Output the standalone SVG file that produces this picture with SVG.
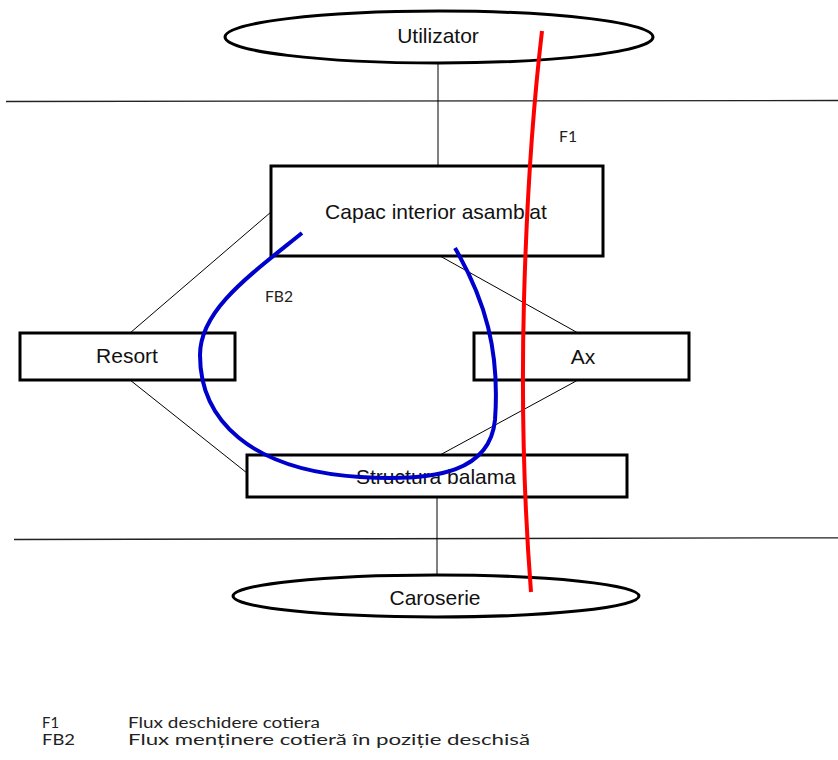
<svg xmlns="http://www.w3.org/2000/svg" width="838" height="760" viewBox="0 0 838 760">
  <style>
    .box { fill: #ffffff; stroke: #000000; stroke-width: 3; }
    .lbl { font-family: "Liberation Sans", Arial, sans-serif; font-size: 21px; fill: #111111; text-anchor: middle; }
    .note { font-family: Lato, "Noto Sans", sans-serif; font-size: 15.5px; fill: #222222; }
    .link { stroke: #000000; stroke-width: 1; fill: none; }
    .border { stroke: #222222; stroke-width: 1.3; fill: none; }
    .flow-f1 { stroke: #ff0000; stroke-width: 4; fill: none; stroke-linecap: butt; }
    .flow-fb2 { stroke: #0000cc; stroke-width: 4; fill: none; stroke-linecap: butt; }
  </style>

  <rect width="838" height="760" fill="#ffffff"/>

  <!-- system boundaries -->
  <g id="boundaries">
    <line class="border" x1="6" y1="101.5" x2="838" y2="100.5"/>
    <line class="border" x1="14" y1="539.5" x2="838" y2="537.8"/>
  </g>

  <!-- connectors between components -->
  <g id="connectors">
    <line class="link" x1="438" y1="63" x2="438" y2="166"/>
    <line class="link" x1="271" y1="212" x2="130" y2="333"/>
    <line class="link" x1="130" y1="380" x2="247" y2="473"/>
    <line class="link" x1="440" y1="256" x2="578" y2="333"/>
    <line class="link" x1="578" y1="380" x2="440" y2="455"/>
    <line class="link" x1="437" y1="497" x2="437" y2="575"/>
  </g>

  <g id="utilizator">
    <ellipse class="box" cx="439" cy="37" rx="214" ry="26"/>
    <text class="lbl" x="438" y="43">Utilizator</text>
  </g>

  <g id="capac">
    <rect class="box" x="271" y="166" width="332" height="90"/>
    <text class="lbl" x="436" y="219">Capac interior asamblat</text>
  </g>

  <g id="resort">
    <rect class="box" x="20" y="333" width="215" height="47"/>
    <text class="lbl" x="127" y="363">Resort</text>
  </g>

  <g id="ax">
    <rect class="box" x="474" y="333" width="215" height="47"/>
    <text class="lbl" x="583" y="364">Ax</text>
  </g>

  <g id="structura">
    <rect class="box" x="247" y="455" width="380" height="42"/>
    <text class="lbl" x="436" y="484">Structura balama</text>
  </g>

  <g id="caroserie">
    <ellipse class="box" cx="436" cy="596" rx="203" ry="21"/>
    <text class="lbl" x="435" y="605">Caroserie</text>
  </g>

  <!-- function flows -->
  <g id="flows">
    <path class="flow-fb2" d="M302,233 C250,275 200,310 200,355 C200,420 250,470 360,477 C440,482 490,470 495,420 C500,350 485,300 455,248"/>
    <path class="flow-f1" d="M542,31 Q528,150 524,300 Q520,450 531,592"/>
    <text class="note" x="559" y="142" textLength="18" lengthAdjust="spacingAndGlyphs">F1</text>
    <text class="note" x="265" y="302" textLength="28" lengthAdjust="spacingAndGlyphs">FB2</text>
  </g>

  <!-- legend -->
  <g id="legend">
    <text class="note" x="42" y="728" textLength="17" lengthAdjust="spacingAndGlyphs">F1</text>
    <text class="note" x="128" y="728" textLength="192" lengthAdjust="spacingAndGlyphs">Flux deschidere cotiera</text>
    <text class="note" x="42" y="745" textLength="33" lengthAdjust="spacingAndGlyphs">FB2</text>
    <text class="note" x="128" y="745" textLength="402" lengthAdjust="spacingAndGlyphs">Flux menținere cotieră în poziție deschisă</text>
  </g>
</svg>
